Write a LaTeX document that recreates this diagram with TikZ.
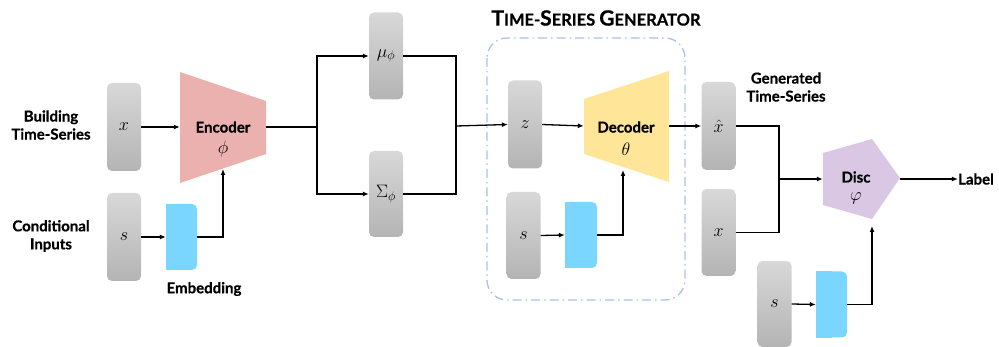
\RequirePackage{fix-cm}
\documentclass[tikz,border=0pt]{standalone}
\usepackage{fontspec}
\setsansfont{Lato}[BoldFeatures={FakeBold=0.6}]
\usetikzlibrary{arrows.meta,calc}
\definecolor{boxtop}{HTML}{D8D8D8}
\definecolor{boxbot}{HTML}{B4B4B4}
\definecolor{encpink}{HTML}{EBB1AF}
\definecolor{decyellow}{HTML}{FEE598}
\definecolor{discpurple}{HTML}{D9C7E4}
\definecolor{embblue}{HTML}{7AD5FF}
\definecolor{dashblue}{HTML}{A9C2E6}
\newcommand{\mq}[1]{{\fontsize{18}{20}\selectfont$#1$}}
\tikzset{
  gbox/.style={rounded corners=5pt, top color=boxtop, bottom color=boxbot, draw=none,
    minimum width=34pt, minimum height=88pt, inner sep=0pt},
  embbox/.style={rounded corners=5pt, fill=embblue, draw=none, minimum width=31pt, minimum height=66pt, inner sep=0pt},
  lbl/.style={font=\sffamily\bfseries\fontsize{15}{18}\selectfont, align=center, inner sep=0pt},
  blk/.style={font=\sffamily\bfseries\fontsize{15}{18}\selectfont, inner sep=0pt},
  mth/.style={inner sep=0pt},
  conn/.style={line width=1.3pt, draw=black, -{Latex[length=6pt,width=5pt]}},
  wire/.style={line width=1.3pt, draw=black},
  ghost/.style={draw=none, fill=none, inner sep=0pt},
}
\newcommand{\embfix}[1]{\fill[embblue] (#1.north west) rectangle (#1.south);}
\newcommand{\BigL}[1]{{\fontsize{21}{22}\selectfont #1}}
\newcommand{\SmL}[1]{{\fontsize{16.5}{22}\selectfont #1}}
\begin{document}
\begin{tikzpicture}[x=1pt,y=-1pt]
\useasboundingbox (0,0) rectangle (999,347);

% ---------- Encoder part ----------
\node[lbl] (lblbuild) at (51,125) {Building\\Time-Series};
\node[lbl] (lblcond) at (51,236) {Conditional\\Inputs};
\node[gbox] (xin) at (124,127) {\mq{x}};
\node[gbox] (sin) at (124,237) {\mq{s}};
\fill[encpink] (180,72) -- (266,101) -- (266,154) -- (180,183) -- cycle;
\node[ghost, minimum width=86pt, minimum height=111pt] (enc) at (223,127) {};
\node[blk] (enctext) at (223,127) {Encoder};
\node[mth] (encphi) at (223,149) {\mq{\phi}};
\coordinate (encbot) at (223,169);
\node[embbox] (emb1) at (181.5,237) {};
\embfix{emb1}
\node[lbl] (lblemb) at (204,289) {Embedding};

\draw[conn] (xin.east) -- (enc.west);
\draw[conn] (sin.east) -- (emb1.west);
\draw[conn] (emb1.east) -| (encbot);

% ---------- latent ----------
\node[gbox, minimum height=87pt] (mu) at (386,56) {\mq{\mu_\phi}};
\node[gbox, minimum height=86pt] (sig) at (386,194) {\mq{\Sigma_\phi}};
\coordinate (split) at (317,127);
\coordinate (merge) at (456,126);
\draw[wire] (enc.east) -- (split);
\draw[conn] (split) |- (mu.west);
\draw[conn] (split) |- (sig.west);
\draw[wire] (mu.east) -| (merge);
\draw[wire] (sig.east) -| (merge);

% ---------- generator ----------
\draw[dashblue, line width=1.3pt, rounded corners=20pt, dash pattern=on 9pt off 4pt on 1.5pt off 4pt] (487,38) rectangle (685,300);
\node[font=\sffamily\bfseries, inner sep=0pt] (title) at (596,18)
  {\BigL{T}\SmL{IME-}\BigL{S}\SmL{ERIES\ }\BigL{G}\SmL{ENERATOR}};
\node[gbox] (z) at (525,124.5) {\mq{z}};
\node[gbox, minimum height=87pt] (sin2) at (523.5,235.5) {\mq{s}};
\fill[decyellow] (584,99) -- (669,71) -- (669,182) -- (584,154) -- cycle;
\node[ghost, minimum width=85pt, minimum height=111pt] (dec) at (626.5,126) {};
\node[blk] (dectext) at (626,127) {Decoder};
\node[mth] (dectheta) at (626,149) {\mq{\theta}};
\coordinate (decbot) at (623,170);
\node[embbox, minimum width=32pt] (emb2) at (581,235) {};
\embfix{emb2}

\draw[conn] (merge) -- (z.west);
\draw[conn] (z.east) -- (dec.west);
\draw[conn] (sin2.east) -- (emb2.west);
\draw[conn] (emb2.east) -| (decbot);

% ---------- discriminator ----------
\node[lbl] (lblgen) at (786,87) {Generated\\Time-Series};
\node[gbox] (xhat) at (718.5,126) {\mq{\hat{x}}};
\node[gbox, minimum height=87pt] (xr) at (718.5,232.5) {\mq{x}};
\draw[conn] (dec.east) -- (xhat.west);
\fill[discpurple] (823,153) -- (872,139) -- (900,178) -- (872,219) -- (823,205) -- cycle;
\node[ghost, minimum width=77pt, minimum height=66pt] (disc) at (861.5,179) {};
\node[blk] (disctext) at (856,177) {Disc};
\node[mth] (discphi) at (856,198) {\mq{\varphi}};
\coordinate (join) at (779,179);
\coordinate (discbot) at (872,226);
\draw[wire] (xhat.east) -| (join);
\draw[wire] (xr.east) -| (join);
\draw[conn] (join) -- (disc.west);
\node[blk] (label) at (976,179) {Label};
\draw[conn] (disc.east) -- (label.west);
\node[gbox, minimum height=86pt] (s3) at (774.5,304) {\mq{s}};
\node[embbox] (emb3) at (831.5,304.5) {};
\embfix{emb3}
\draw[conn] (s3.east) -- (emb3.west);
\draw[conn] (emb3.east) -| (discbot);
\end{tikzpicture}
\end{document}
